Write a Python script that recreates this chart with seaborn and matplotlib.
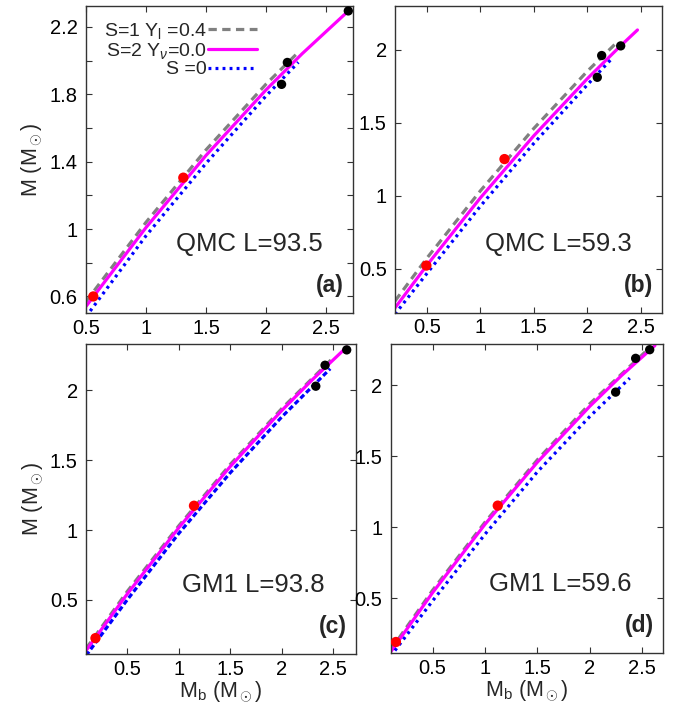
import matplotlib
matplotlib.use("Agg")
import matplotlib.pyplot as plt
import seaborn as sns
from matplotlib.ticker import FormatStrFormatter, MultipleLocator

# ---------------- data ----------------
# panel (a) QMC L=93.5
mb_a_gray = [0.5, 1.0, 1.5, 2.0, 2.256]
m_a_gray = [0.57, 1.04, 1.47, 1.86, 2.04]
mb_a_mag = [0.5, 1.0, 1.5, 2.0, 2.3, 2.69]
m_a_mag = [0.541, 1.009, 1.437, 1.826, 2.04, 2.297]
mb_a_blue = [0.5, 1.0, 1.5, 2.0, 2.27]
m_a_blue = [0.48, 0.96, 1.39, 1.79, 1.99]
mb_a_red = [0.561, 1.311]
m_a_red = [0.60, 1.305]
mb_a_black = [2.13, 2.178, 2.686]
m_a_black = [1.859, 1.989, 2.295]

# panel (b) QMC L=59.3
mb_b_gray = [0.2, 0.5, 1.0, 1.5, 2.0, 2.276]
m_b_gray = [0.28, 0.575, 1.035, 1.462, 1.853, 2.05]
mb_b_mag = [0.2, 0.5, 1.0, 1.5, 2.0, 2.3, 2.47]
m_b_mag = [0.233, 0.526, 0.987, 1.412, 1.802, 2.019, 2.136]
mb_b_blue = [0.2, 0.5, 1.0, 1.5, 2.0, 2.23]
m_b_blue = [0.19, 0.47, 0.93, 1.36, 1.76, 1.94]
mb_b_red = [0.494, 1.225]
m_b_red = [0.523, 1.252]
mb_b_black = [2.094, 2.135, 2.313]
m_b_black = [1.812, 1.961, 2.027]

# panel (c) GM1 L=93.8
mb_c_gray = [0.1, 0.5, 1.0, 1.5, 2.0, 2.5]
m_c_gray = [0.15, 0.56, 1.03, 1.47, 1.87, 2.235]
mb_c_mag = [0.1, 0.5, 1.0, 1.5, 2.0, 2.3, 2.63]
m_c_mag = [0.136, 0.542, 1.016, 1.455, 1.856, 2.079, 2.31]
mb_c_blue = [0.1, 0.5, 1.0, 1.5, 2.0, 2.47]
m_c_blue = [0.10, 0.50, 0.975, 1.41, 1.81, 2.155]
mb_c_red = [0.192, 1.148]
m_c_red = [0.226, 1.174]
mb_c_black = [2.33, 2.42, 2.63]
m_c_black = [2.03, 2.18, 2.29]

# panel (d) GM1 L=59.6
mb_d_gray = [0.1, 0.5, 1.0, 1.5, 2.0, 2.55]
m_d_gray = [0.135, 0.555, 1.035, 1.475, 1.87, 2.25]
mb_d_mag = [0.1, 0.5, 1.0, 1.5, 2.0, 2.3, 2.62]
m_d_mag = [0.12, 0.538, 1.02, 1.458, 1.852, 2.067, 2.279]
mb_d_blue = [0.1, 0.5, 1.0, 1.5, 2.0, 2.38]
m_d_blue = [0.09, 0.48, 0.95, 1.39, 1.78, 2.05]
mb_d_red = [0.15, 1.121]
m_d_red = [0.19, 1.151]
mb_d_black = [2.245, 2.436, 2.57]
m_d_black = [1.951, 2.189, 2.25]

legend_labels = [r"S=1 Y$_\mathrm{l}$ =0.4", r"S=2 Y$_\nu$=0.0", "S =0"]
panel_texts = ["QMC L=93.5", "QMC L=59.3", "GM1 L=93.8", "GM1 L=59.6"]
panel_tags = ["(a)", "(b)", "(c)", "(d)"]

# ---------------- style ----------------
sns.set_style("ticks")
plt.rcParams["font.family"] = ["Liberation Sans", "DejaVu Sans"]
plt.rcParams["mathtext.fontset"] = "custom"
plt.rcParams["mathtext.rm"] = "Liberation Sans"
plt.rcParams["mathtext.it"] = "Liberation Sans:italic"
plt.rcParams["mathtext.bf"] = "Liberation Sans:bold"

fig = plt.figure(figsize=(6.83, 7.08), dpi=100)
positions = [
    [0.1259, 0.5575, 0.3909, 0.4340],
    [0.5783, 0.5583, 0.3910, 0.4332],
    [0.1259, 0.0758, 0.3953, 0.4379],
    [0.5720, 0.0772, 0.3992, 0.4369],
]
xlims = [(0.5, 2.725), (0.2, 2.7), (0.1, 2.72), (0.1, 2.7)]
ylims = [(0.5, 2.324), (0.2, 2.3), (0.11, 2.33), (0.11, 2.29)]

panels = [
    (mb_a_gray, m_a_gray, mb_a_mag, m_a_mag, mb_a_blue, m_a_blue, mb_a_red, m_a_red, mb_a_black, m_a_black),
    (mb_b_gray, m_b_gray, mb_b_mag, m_b_mag, mb_b_blue, m_b_blue, mb_b_red, m_b_red, mb_b_black, m_b_black),
    (mb_c_gray, m_c_gray, mb_c_mag, m_c_mag, mb_c_blue, m_c_blue, mb_c_red, m_c_red, mb_c_black, m_c_black),
    (mb_d_gray, m_d_gray, mb_d_mag, m_d_mag, mb_d_blue, m_d_blue, mb_d_red, m_d_red, mb_d_black, m_d_black),
]

gray_style = (0, (2.6, 1.7))
blue_dot = (0, (0.9, 1.3))
blue_dash_c = (0, (1.6, 0.9))

for i, (pos, data) in enumerate(zip(positions, panels)):
    ax = fig.add_axes(pos)
    gx, gy, mx, my, bx, by, rx, ry, kx, ky = data
    sns.lineplot(x=gx, y=gy, ax=ax, color="#808080", lw=2.3, linestyle=gray_style,
                 label=legend_labels[0] if i == 0 else None, sort=False, estimator=None)
    sns.lineplot(x=mx, y=my, ax=ax, color="#ff00ff", lw=2.3, linestyle="-",
                 label=legend_labels[1] if i == 0 else None, sort=False, estimator=None)
    sns.lineplot(x=bx, y=by, ax=ax, color="#0000ff", lw=2.3,
                 linestyle=blue_dash_c if i == 2 else blue_dot,
                 label=legend_labels[2] if i == 0 else None, sort=False, estimator=None)
    sns.scatterplot(x=rx, y=ry, ax=ax, color="#ff0000", s=55, edgecolor="none", zorder=5)
    sns.scatterplot(x=kx, y=ky, ax=ax, color="black", s=45, edgecolor="none", zorder=5, clip_on=False)

    ax.set_xlim(*xlims[i])
    ax.set_ylim(*ylims[i])
    ax.xaxis.set_major_locator(MultipleLocator(0.5))
    if i == 0:
        ax.yaxis.set_major_locator(MultipleLocator(0.2))
    else:
        ax.yaxis.set_major_locator(MultipleLocator(0.5))
    ax.xaxis.set_major_formatter(FormatStrFormatter("%g"))
    ax.yaxis.set_major_formatter(FormatStrFormatter("%g"))
    ax.tick_params(direction="in", length=4, width=0.8, top=True, right=True,
                   labelsize=14.5, colors="#333333", labelcolor="black")
    ax.tick_params(axis="x", pad=4)
    ax.tick_params(axis="y", pad=6)
    if i == 0:
        ticks = ax.get_yticks()
        ax.set_yticks(ticks)
        ax.set_yticklabels(["%g" % t if (round(t * 10) % 4 == 2) else "" for t in ticks])
        ax.set_ylim(*ylims[i])
    for sp in ax.spines.values():
        sp.set_linewidth(1.0)
        sp.set_color("#333333")

    ax.text(0.885, 0.225, panel_texts[i], transform=ax.transAxes, fontsize=18.5,
            ha="right", va="center")
    ax.text(0.965, 0.09, panel_tags[i], transform=ax.transAxes, fontsize=16.5,
            fontweight="bold", ha="right", va="center")

    if i in (0, 2):
        ax.set_ylabel(r"M (M$_\odot$)", fontsize=15.5, labelpad=3)
    else:
        ax.set_ylabel("")
    if i in (2, 3):
        ax.set_xlabel(r"M$_\mathrm{b}$ (M$_\odot$)", fontsize=15.5, labelpad=0)
    else:
        ax.set_xlabel("")

    if i == 0:
        ax.legend(loc="upper left", bbox_to_anchor=(0.025, 0.99), markerfirst=False,
                  frameon=False, fontsize=14, handlelength=2.5, handletextpad=0.05,
                  labelspacing=0.0, borderaxespad=0.2)
    else:
        leg = ax.get_legend()
        if leg is not None:
            leg.remove()

fig.savefig("out.png", dpi=100)
